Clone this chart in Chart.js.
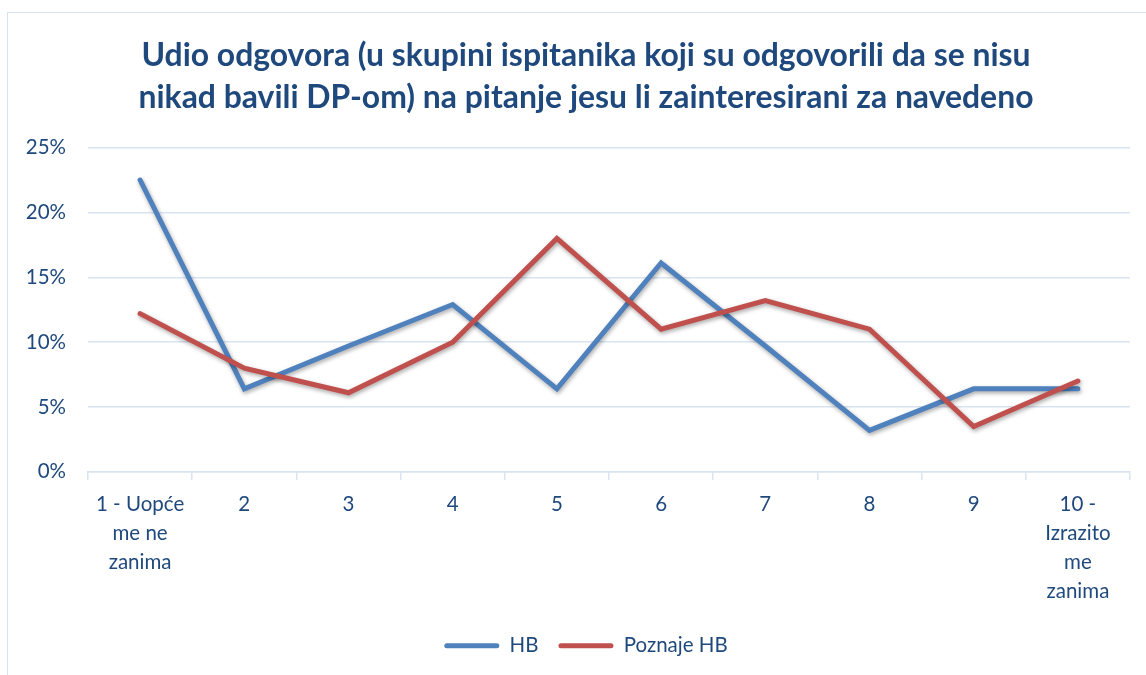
<!DOCTYPE html>
<html>
<head>
<meta charset="utf-8">
<script src="https://cdn.jsdelivr.net/npm/chart.js@4/dist/chart.umd.min.js"></script>
<style>
  html, body { margin: 0; padding: 0; background: #fff; overflow: hidden; }
  #frame { position: absolute; left: 7px; top: 12px; width: 1200px; height: 700px; border: 1.5px solid #D5E3F3; box-sizing: border-box; }
  #wrap { position: absolute; left: 0; top: 0; width: 1146px; height: 675px; }
</style>
</head>
<body>
<div id="frame"></div>
<div id="wrap"><canvas id="c" width="1146" height="675"></canvas></div>
<script>
const categories = [
  ["1 - Uopće", "me ne", "zanima"], "2", "3", "4", "5", "6", "7", "8", "9",
  ["10 -", "Izrazito", "me", "zanima"]
];
const seriesNames = ["HB", "Poznaje HB"];
const hbValues = [22.5, 6.4, 9.7, 12.9, 6.4, 16.1, 9.7, 3.2, 6.4, 6.4];
const poznajeValues = [12.2, 8.0, 6.1, 10.0, 18.0, 11.0, 13.2, 11.0, 3.5, 7.0];
const yTicks = [0, 5, 10, 15, 20, 25];
const titleLines = [
  "Udio odgovora (u skupini ispitanika koji su odgovorili da se nisu",
  "nikad bavili DP-om) na pitanje jesu li zainteresirani za navedeno"
];

const textColor = "#1F497D";
const gridColor = "#D9E4F2";

const shadowPlugin = {
  id: "lineShadow",
  beforeDatasetDraw(chart) {
    const ctx = chart.ctx;
    ctx.save();
    ctx.shadowColor = "rgba(0,0,0,0.35)";
    ctx.shadowBlur = 4;
    ctx.shadowOffsetX = 1;
    ctx.shadowOffsetY = 2;
  },
  afterDatasetDraw(chart) {
    chart.ctx.restore();
  }
};

// Centre title and legend over the outer frame rather than the canvas
const centerShift = {
  id: "centerShift",
  afterLayout(chart) {
    if (chart.titleBlock) chart.titleBlock.left = 42;
    if (chart.legend) chart.legend.left = 42;
  }
};

new Chart(document.getElementById("c"), {
  type: "line",
  data: {
    labels: categories,
    datasets: [
      { label: seriesNames[0], data: hbValues, borderColor: "#4F81BD", backgroundColor: "#4F81BD",
        borderWidth: 5, pointRadius: 0, tension: 0, order: 1, borderCapStyle: "round", borderJoinStyle: "miter" },
      { label: seriesNames[1], data: poznajeValues, borderColor: "#C0504D", backgroundColor: "#C0504D",
        borderWidth: 5, pointRadius: 0, tension: 0, order: 0, borderCapStyle: "round", borderJoinStyle: "miter" }
    ]
  },
  options: {
    responsive: false,
    animation: false,
    layout: { padding: { left: 0, right: 16, top: 35, bottom: 9 } },
    plugins: {
      title: {
        display: true,
        text: titleLines,
        color: textColor,
        font: { family: "Lato", size: 31.9, weight: "bold", lineHeight: 1.31 },
        padding: { top: 0, bottom: 29 }
      },
      legend: {
        position: "bottom",
        labels: {
          color: textColor,
          font: { family: "Lato", size: 20.5 },
          boxWidth: 55,
          boxHeight: 5,
          padding: 20,
          sort: (a, b) => a.datasetIndex - b.datasetIndex,
          generateLabels(chart) {
            return chart.data.datasets.map((ds, i) => ({
              text: ds.label, fillStyle: ds.borderColor, strokeStyle: ds.borderColor,
              lineWidth: 0, datasetIndex: i, borderRadius: 2.5, fontColor: textColor
            }));
          }
        }
      },
      tooltip: { enabled: false }
    },
    scales: {
      x: {
        offset: true,
        grid: { display: true, drawOnChartArea: false, offset: true, color: gridColor, tickLength: 8, lineWidth: 1.5 },
        border: { color: gridColor, width: 1.5 },
        ticks: { color: textColor, font: { family: "Lato", size: 20.5, lineHeight: 1.41 }, maxRotation: 0, autoSkip: false, padding: 10 }
      },
      y: {
        min: 0, max: 25,
        afterFit(s) { s.width = 88; },
        afterBuildTicks(s) { s.ticks = yTicks.map(v => ({ value: v })); },
        grid: { color: gridColor, lineWidth: 1.5, drawTicks: false },
        border: { display: false },
        ticks: { color: textColor, font: { family: "Lato", size: 20.5 }, padding: 22, callback: v => v + "%" }
      }
    }
  },
  plugins: [shadowPlugin, centerShift]
});
</script>
</body>
</html>
